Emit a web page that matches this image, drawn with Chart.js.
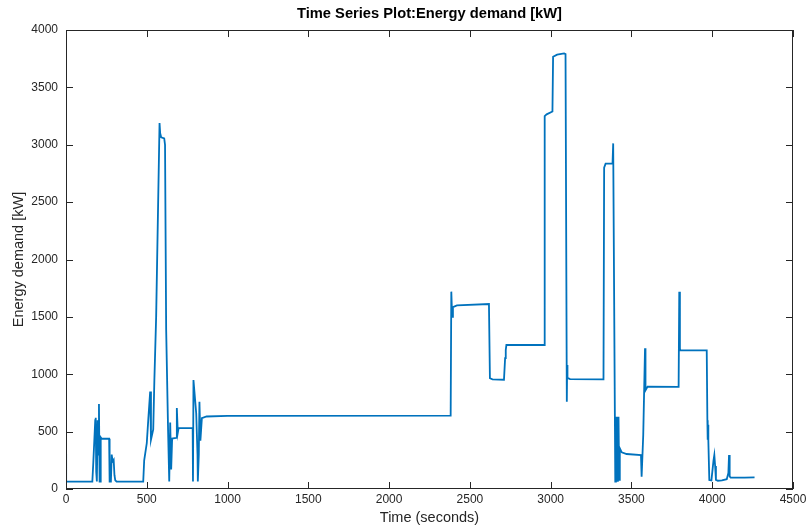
<!DOCTYPE html>
<html><head><meta charset="utf-8">
<script src="https://cdn.jsdelivr.net/npm/chart.js@4/dist/chart.umd.min.js"></script>
<style>html,body{margin:0;padding:0;background:#fff}#wrap{width:806px;height:530px}</style>
</head><body><div id="wrap"><canvas id="c" width="806" height="530"></canvas></div>
<script>
const timeSeconds = [0,1,163,169,181,184,187,191,196,200,204,208,212,215,220,267,270,278,283,288,295,300,305,313,478,484,500,510,521,526,540,547,558,579,583,589,608,613,620,632,639,645,651,657,682,686,692,697,784,786,789,806,814,816,822,826,832,841,870,1000,2376,2381,2385,2390,2395,2420,2618,2624,2640,2711,2718,2722,2726,2959,2963,2975,3011,3015,3040,3083,3092,3100,3102,3104,3120,3327,3331,3340,3383,3387,3389,3400,3404,3408,3412,3416,3420,3424,3428,3440,3470,3559,3563,3573,3584,3586,3588,3600,3792,3796,3800,3802,3966,3970,3972,3974,3976,3982,3995,4008,4013,4018,4023,4035,4060,4090,4100,4104,4108,4114,4200,4262];
const energyDemand = [310,65,65,230,600,620,150,65,600,300,740,65,65,450,440,438,65,65,300,240,255,120,75,65,65,250,400,620,850,430,520,950,1500,3190,3100,3065,3056,3000,1390,500,65,580,170,440,445,705,490,530,530,65,950,660,300,65,300,760,420,618,632,638,640,640,1720,1500,1585,1600,1612,965,955,952,1140,1211,1255,1255,3250,3265,3290,3767,3785,3797,3790,761,1080,968,958,955,2800,2835,2838,3012,3012,64,630,64,630,64,630,80,355,320,305,296,107,470,1226,900,860,892,890,1720,1226,1211,1208,600,430,560,420,78,75,250,296,200,80,72,75,85,140,296,110,100,100,102];
const xTickValues = [0,500,1000,1500,2000,2500,3000,3500,4000,4500];
const yTickValues = [0,500,1000,1500,2000,2500,3000,3500,4000];

const points = timeSeconds.map((t,i)=>({x:t,y:energyDemand[i]}));
const AX = '#262626';
const FONT = 'Liberation Sans, Arial, Helvetica, sans-serif';

const boxPlugin = {
  id:'matlabBox',
  afterDraw(chart){
    const {ctx, chartArea:a, scales:{x,y}} = chart;
    ctx.save();
    ctx.strokeStyle = AX; ctx.lineWidth = 1;
    ctx.strokeRect(Math.round(a.left)+0.5, Math.round(a.top)+0.5, Math.round(a.right-a.left)-1, Math.round(a.bottom-a.top)-1);
    ctx.beginPath();
    const L = 7;
    x.ticks.forEach(t=>{
      const p = Math.round(x.getPixelForValue(t.value))+0.5;
      ctx.moveTo(p,a.bottom); ctx.lineTo(p,a.bottom-L);
      ctx.moveTo(p,a.top); ctx.lineTo(p,a.top+L);
    });
    y.ticks.forEach(t=>{
      const p = Math.round(y.getPixelForValue(t.value))+0.5;
      ctx.moveTo(a.left,p); ctx.lineTo(a.left+L,p);
      ctx.moveTo(a.right,p); ctx.lineTo(a.right-L,p);
    });
    ctx.stroke();
    ctx.restore();
  }
};

new Chart(document.getElementById('c'), {
  type:'line',
  data:{datasets:[{
    data:points,
    borderColor:'#0072BD',
    borderWidth:1.8,
    pointRadius:0,
    tension:0,
    fill:false
  }]},
  options:{
    responsive:false,
    animation:false,
    devicePixelRatio:1,
    layout:{padding:{left:0,right:13,top:0,bottom:0}},
    plugins:{
      legend:{display:false},
      tooltip:{enabled:false},
      title:{
        display:true,
        text:'Time Series Plot:Energy demand [kW]',
        fullSize:false,
        color:'#000',
        font:{family:FONT,size:14.7,weight:'bold'},
        padding:{top:5.5,bottom:6.9}
      }
    },
    scales:{
      x:{
        type:'linear', min:0, max:4500,
        afterBuildTicks:s=>{s.ticks = xTickValues.map(v=>({value:v}));},
        afterFit:s=>{s.height = 41; s.paddingLeft = 0; s.paddingRight = 0;},
        grid:{display:false, drawTicks:false},
        border:{display:false},
        ticks:{color:AX, padding:3, maxRotation:0, font:{family:FONT,size:12}, callback:v=>String(v)},
        title:{display:true, text:'Time (seconds)', color:AX, font:{family:FONT,size:14.5}, padding:{top:0,bottom:3}}
      },
      y:{
        type:'linear', min:0, max:4000,
        afterBuildTicks:s=>{s.ticks = yTickValues.map(v=>({value:v}));},
        afterFit:s=>{s.width = 66; s.paddingTop = 0; s.paddingBottom = 0;},
        grid:{display:false, drawTicks:false},
        border:{display:false},
        ticks:{color:AX, padding:8, font:{family:FONT,size:12}, callback:v=>String(v)},
        title:{display:true, text:'Energy demand [kW]', color:AX, font:{family:FONT,size:14.5}, padding:{top:10,bottom:0}}
      }
    }
  },
  plugins:[boxPlugin]
});
</script></body></html>
